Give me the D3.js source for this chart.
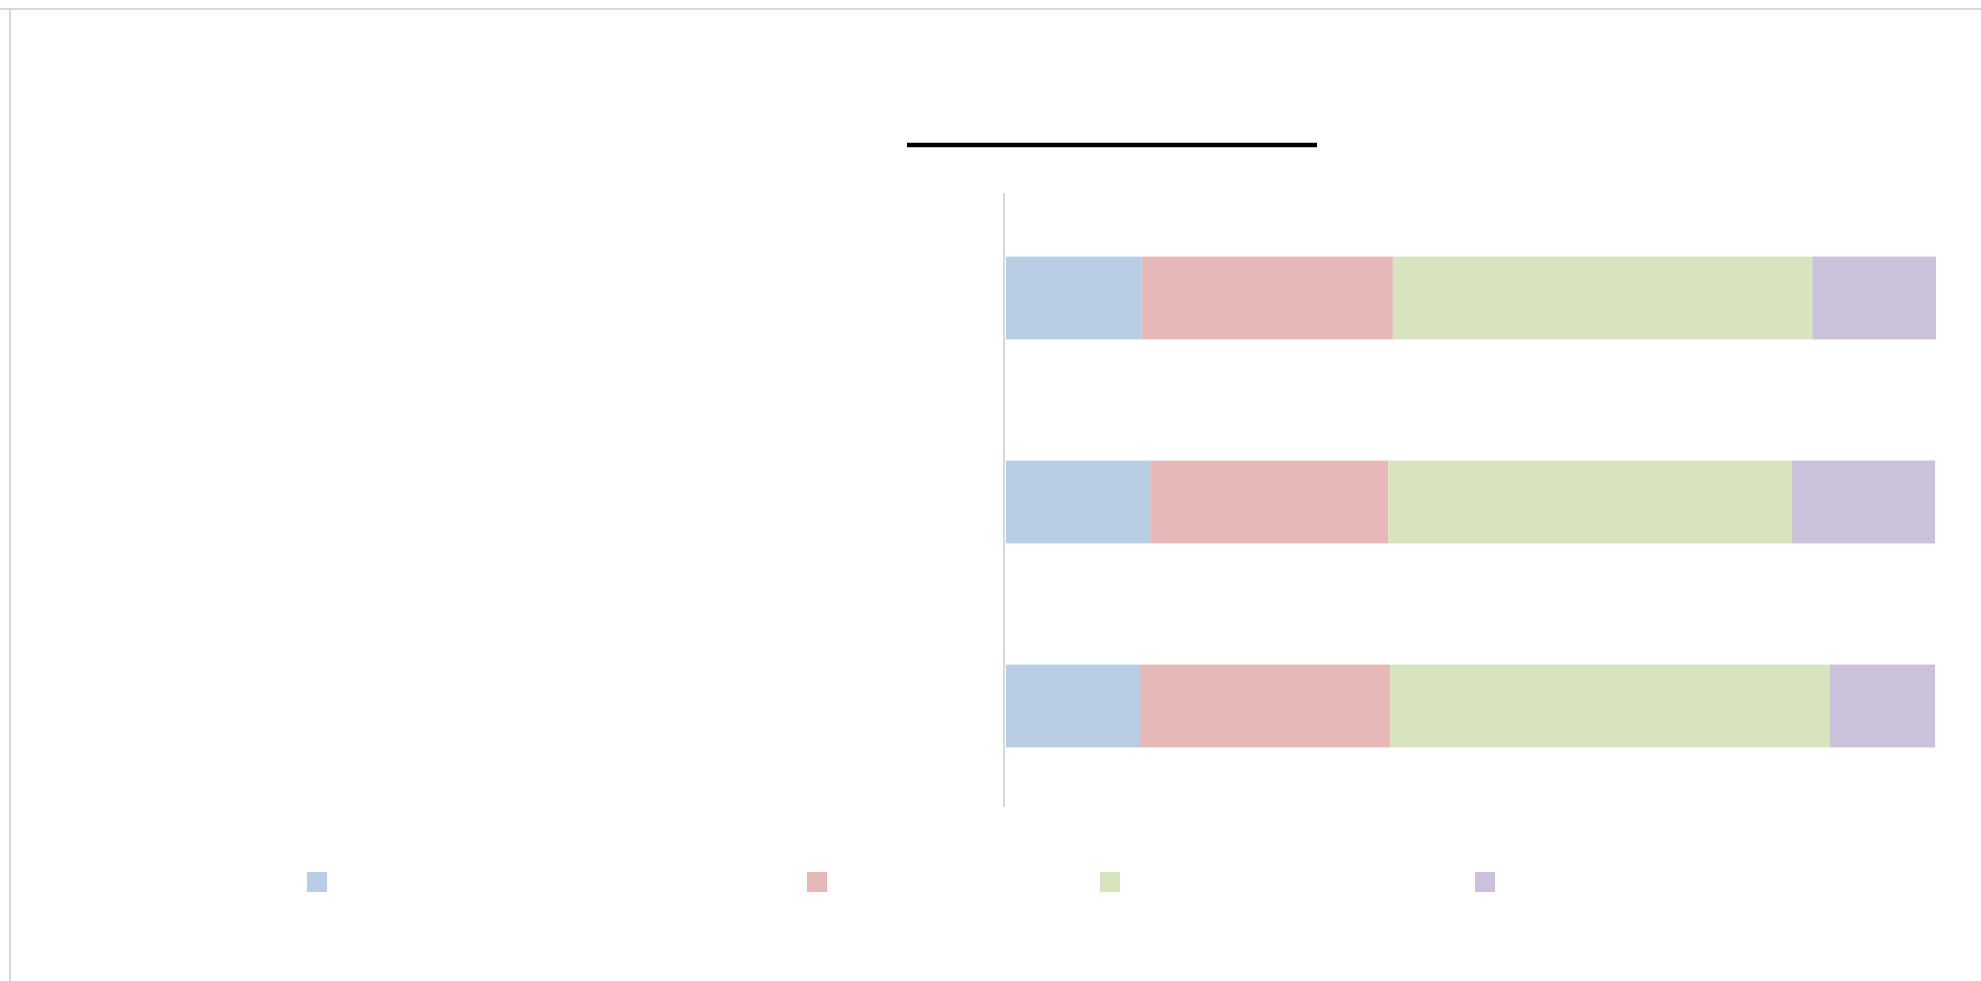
<!DOCTYPE html>
<html>
<head>
<meta charset="utf-8">
<script src="https://cdn.jsdelivr.net/npm/d3@7"></script>
<style>
  html, body { margin: 0; padding: 0; background: #ffffff; }
  svg { display: block; }
</style>
</head>
<body>
<svg id="chart" width="1981" height="981"></svg>
<script>
// ---- data (top to bottom order of bars) ----
const categories = ["A", "B", "C"];
const seriesNames = ["S1", "S2", "S3", "S4"];
const series1 = [14.6, 15.5, 14.3];
const series2 = [27.0, 25.6, 27.0];
const series3 = [45.1, 43.4, 47.3];
const series4 = [13.3, 15.4, 11.3];
const seriesColors = ["#b9cde5", "#e6b9b8", "#d7e4bd", "#ccc1da"];

// ---- layout ----
const W = 1981, H = 981;
const plot = { left: 1006, right: 1936, top: 196, bottom: 808 };
const svg = d3.select("#chart");

// frame borders
svg.append("line").attr("x1", 0).attr("x2", W).attr("y1", 9).attr("y2", 9)
  .attr("stroke", "#d9d9d9").attr("stroke-width", 2);
svg.append("line").attr("x1", 10).attr("x2", 10).attr("y1", 9).attr("y2", H)
  .attr("stroke", "#d9d9d9").attr("stroke-width", 2);

// title underline (title glyphs not rendered in the reference)
svg.append("line").attr("x1", 907).attr("x2", 1317).attr("y1", 145).attr("y2", 145)
  .attr("stroke", "#000").attr("stroke-width", 4.5);

const rows = categories.map((c, i) => ({
  cat: c, S1: series1[i], S2: series2[i], S3: series3[i], S4: series4[i]
}));
const stack = d3.stack().keys(seriesNames)(rows);

const x = d3.scaleLinear().domain([0, 100]).range([plot.left, plot.right]);
const y = d3.scaleBand().domain(categories).range([plot.top, plot.bottom])
  .paddingInner(0.594).paddingOuter(0.297);
const color = d3.scaleOrdinal().domain(seriesNames).range(seriesColors);

svg.append("g").selectAll("g").data(stack).join("g")
  .attr("fill", d => color(d.key))
  .selectAll("rect").data(d => d).join("rect")
  .attr("x", d => x(d[0]))
  .attr("width", d => x(d[1]) - x(d[0]))
  .attr("y", d => y(d.data.cat))
  .attr("height", y.bandwidth());

// category axis line
svg.append("line").attr("x1", plot.left - 2).attr("x2", plot.left - 2)
  .attr("y1", 193).attr("y2", 807)
  .attr("stroke", "#d9d9d9").attr("stroke-width", 2);

// legend swatches (labels not rendered in the reference)
const legendX = [307, 807, 1100, 1475];
svg.append("g").selectAll("rect").data(seriesNames).join("rect")
  .attr("x", (d, i) => legendX[i]).attr("y", 872)
  .attr("width", 20).attr("height", 20)
  .attr("fill", d => color(d));
</script>
</body>
</html>
